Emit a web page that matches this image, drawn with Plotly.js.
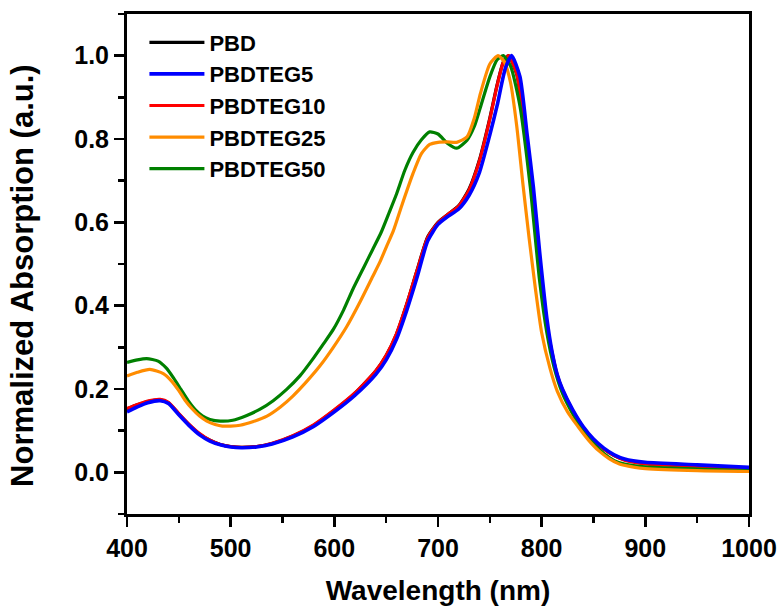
<!DOCTYPE html>
<html>
<head>
<meta charset="utf-8">
<script src="https://cdn.plot.ly/plotly-3.0.1.min.js"></script>
<style>html,body{margin:0;padding:0;background:#fff;}#chart{width:780px;height:606px;}</style>
</head>
<body>
<div id="chart"></div>
<script>
// Series names (legend order)
const seriesNames = ["PBD", "PBDTEG5", "PBDTEG10", "PBDTEG25", "PBDTEG50"];

// PBD
const pbdX = [400,410,420,432,440,450,460,470,480,490,500,510,525,540,560,580,600,620,640,650,660,670,680,690,700,710,720,730,740,750,757,763,768,776,784,790,796,803,810,815,820,830,840,850,860,870,880,900,950,1000];
const pbdY = [0.152,0.162,0.170,0.174,0.167,0.140,0.114,0.092,0.077,0.067,0.062,0.060,0.062,0.069,0.087,0.113,0.149,0.190,0.243,0.280,0.332,0.405,0.487,0.565,0.600,0.620,0.640,0.680,0.750,0.850,0.930,0.985,1.000,0.955,0.810,0.685,0.540,0.380,0.285,0.232,0.197,0.147,0.108,0.078,0.056,0.040,0.030,0.022,0.016,0.010];

// PBDTEG5
const teg5X = [400,410,420,432,440,450,460,470,480,490,500,510,525,540,560,580,600,620,640,650,660,670,680,690,700,710,720,730,740,750,757,765,771,779,786,792,798,805,810,815,820,830,840,850,860,870,880,900,950,1000];
const teg5Y = [0.145,0.157,0.167,0.172,0.165,0.138,0.112,0.090,0.075,0.066,0.061,0.059,0.061,0.068,0.085,0.110,0.145,0.185,0.235,0.270,0.320,0.390,0.470,0.555,0.595,0.615,0.632,0.665,0.720,0.810,0.880,0.970,1.000,0.950,0.810,0.685,0.530,0.370,0.290,0.235,0.200,0.150,0.110,0.080,0.058,0.042,0.032,0.024,0.018,0.012];

// PBDTEG10
const teg10X = [400,410,420,432,440,450,460,470,480,490,500,510,525,540,560,580,600,620,640,650,660,670,680,690,700,710,720,730,740,750,757,763,768,776,784,790,796,803,810,815,820,830,840,850,860,870,880,900,950,1000];
const teg10Y = [0.153,0.163,0.171,0.175,0.168,0.141,0.115,0.093,0.077,0.067,0.062,0.060,0.062,0.070,0.088,0.114,0.150,0.191,0.244,0.281,0.333,0.405,0.486,0.563,0.599,0.620,0.639,0.678,0.748,0.848,0.928,0.984,1.000,0.956,0.812,0.688,0.543,0.383,0.288,0.234,0.199,0.148,0.108,0.078,0.056,0.040,0.029,0.020,0.014,0.009];

// PBDTEG25
const teg25X = [400,410,422,435,443,450,456,463,470,477,485,492,500,509,522,535,548,560,573,586,599,612,625,637,644,650,657,665,676,684,692,700,709,718,728,735,741,750,758,764,770,776,782,788,794,800,808,815,825,835,845,855,865,875,890,900,950,1000];
const teg25Y = [0.231,0.240,0.247,0.237,0.219,0.196,0.173,0.152,0.135,0.123,0.115,0.111,0.111,0.113,0.122,0.135,0.157,0.183,0.217,0.255,0.300,0.350,0.410,0.470,0.505,0.540,0.580,0.640,0.718,0.765,0.787,0.792,0.793,0.792,0.805,0.850,0.910,0.980,1.000,0.985,0.935,0.830,0.690,0.560,0.440,0.335,0.250,0.195,0.145,0.110,0.078,0.052,0.033,0.020,0.012,0.009,0.004,0.002];

// PBDTEG50
const teg50X = [400,410,419,430,438,445,452,459,466,473,480,490,502,515,528,541,554,567,579,590,599,609,618,628,637,645,652,660,668,676,684,692,700,709,718,728,735,741,750,757,763,770,779,789,798,805,812,820,830,840,850,860,870,880,900,950,1000];
const teg50Y = [0.264,0.270,0.273,0.267,0.250,0.226,0.199,0.172,0.150,0.135,0.127,0.123,0.125,0.136,0.151,0.172,0.199,0.232,0.271,0.310,0.343,0.390,0.440,0.490,0.535,0.575,0.618,0.668,0.725,0.768,0.798,0.817,0.812,0.790,0.778,0.797,0.830,0.877,0.949,0.990,1.000,0.975,0.880,0.685,0.460,0.335,0.252,0.190,0.140,0.100,0.070,0.045,0.028,0.020,0.013,0.008,0.004];

const colors = {PBD:"#000000", PBDTEG5:"#0000FF", PBDTEG10:"#FF0000", PBDTEG25:"#FF8C00", PBDTEG50:"#008000"};

const FONT = "Liberation Sans, Arial, Helvetica, sans-serif";
const yTitle = "Normalized Absorption (a.u.)";

function tr(name, x, y, rank, w) {
  return {
    type: "scatter", mode: "lines", name: name, x: x, y: y,
    line: {color: colors[name], width: w, shape: "spline", smoothing: 0.6},
    legendrank: rank, legendgroup: name
  };
}

// drawing order: blue on top
const data = [
  tr("PBD", pbdX, pbdY, 1, 3.2),
  tr("PBDTEG10", teg10X, teg10Y, 3, 3.2),
  tr("PBDTEG50", teg50X, teg50Y, 5, 3.2),
  tr("PBDTEG25", teg25X, teg25Y, 4, 3.2),
  tr("PBDTEG5", teg5X, teg5Y, 2, 3.6)
];

const layout = {
  width: 780, height: 606,
  margin: {l: 127, r: 31, t: 14, b: 92},
  paper_bgcolor: "#ffffff", plot_bgcolor: "#ffffff",
  font: {family: FONT, color: "#000", weight: "bold"},
  showlegend: true,
  legend: {
    x: 0.028, y: 0.985, xanchor: "left", yanchor: "top",
    bgcolor: "rgba(0,0,0,0)", borderwidth: 0,
    font: {family: FONT, size: 22, color: "#000", weight: "bold"},
    tracegroupgap: 0, itemwidth: 55
  },
  xaxis: {
    range: [400, 1000], dtick: 100, tick0: 0,
    showgrid: false, zeroline: false,
    showline: true, linewidth: 3, linecolor: "#000", mirror: true,
    ticks: "outside", ticklen: 10, tickwidth: 2.5, tickcolor: "#000",
    minor: {dtick: 50, ticks: "outside", ticklen: 6, tickwidth: 2.5, tickcolor: "#000"},
    tickfont: {family: FONT, size: 25, color: "#000", weight: "bold"},
    title: {text: "Wavelength (nm)", font: {family: FONT, size: 28, color: "#000", weight: "bold"}, standoff: 20}
  },
  yaxis: {
    range: [-0.1, 1.1], dtick: 0.2, tick0: 0, tickformat: ".1f",
    showgrid: false, zeroline: false,
    showline: true, linewidth: 3, linecolor: "#000", mirror: true,
    ticks: "outside", ticklen: 10, tickwidth: 2.5, tickcolor: "#000",
    minor: {dtick: 0.1, ticks: "outside", ticklen: 6, tickwidth: 2.5, tickcolor: "#000"},
    tickfont: {family: FONT, size: 25, color: "#000", weight: "bold"}
  },
  annotations: [{
    text: yTitle, textangle: -90, showarrow: false,
    xref: "paper", yref: "paper", x: -0.169, y: 0.478,
    xanchor: "center", yanchor: "middle",
    font: {family: FONT, size: 31, color: "#000", weight: "bold"}
  }]
};

Plotly.newPlot("chart", data, layout, {displayModeBar: false, staticPlot: true});
</script>
</body>
</html>
